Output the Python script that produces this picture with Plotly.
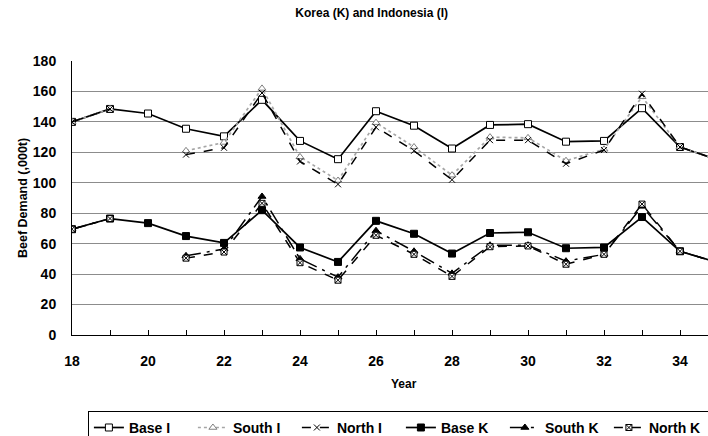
import plotly.graph_objects as go

# Years on the horizontal axis
years = list(range(18, 36))

# Indonesia beef demand (,000t)
base_i = [140, 148.5, 145.5, 135.5, 130.5, 154.5, 127.5, 115.5, 147, 137.5,
          122.5, 138, 138.5, 127, 127.5, 149, 123.5, 115]
south_i = [140, 148.5, None, 121, 126.5, 162, 117, 101.5, 139.5, 123.5,
           105, 130, 129.5, 114.5, 122, 156.5, 123.5, 115]
north_i = [140, 148.5, None, 118.5, 123, 159, 114, 99, 136.5, 121,
           102, 128, 128, 112.5, 121.5, 158.5, 123.5, 115]

# Korea beef demand (,000t)
base_k = [69.5, 76.5, 73.5, 65, 60.5, 82, 57.5, 48, 75, 66.5,
          53.5, 67, 67.5, 57, 57.5, 77.5, 55, 47.5]
south_k = [69.5, 76.5, None, 52, 56.5, 91, 50, 38, 68.5, 55,
           40.5, 59, 59, 48.5, 53, 84.5, 55, 47.5]
north_k = [69.5, 76.5, None, 50.5, 54.5, 86.5, 47.5, 36, 65.5, 53,
           38.5, 58, 58.5, 46.5, 53, 86, 55, 47.5]

y_ticks = list(range(0, 181, 20))
x_ticks = list(range(18, 35, 2))

FONT = "Liberation Sans, Arial, sans-serif"
BOLD = dict(family=FONT, weight="bold", color="black")

series = [
    ("Base I", base_i, dict(color="black", width=1.7, dash="solid"),
     dict(symbol="square", size=7, color="white", line=dict(color="black", width=1))),
    ("South I", south_i, dict(color="#a6a6a6", width=1.7, dash="dot"),
     dict(symbol="triangle-up", size=7, color="white", line=dict(color="#808080", width=1))),
    ("North I", north_i, dict(color="black", width=1.5, dash="dash"),
     dict(symbol="x-thin", size=6, color="black", line=dict(color="black", width=1))),
    ("Base K", base_k, dict(color="black", width=1.7, dash="solid"),
     dict(symbol="square", size=7, color="black", line=dict(color="black", width=1))),
    ("South K", south_k, dict(color="black", width=1.5, dash="longdashdot"),
     dict(symbol="triangle-up", size=7, color="black", line=dict(color="black", width=1))),
    ("North K", north_k, dict(color="black", width=1.5, dash="dash"),
     dict(symbol="square-x", size=6, color="white", line=dict(color="black", width=1))),
]

fig = go.Figure()
for name, vals, line, marker in series:
    fig.add_trace(go.Scatter(
        x=years, y=vals, name=name, mode="lines+markers",
        line=line, marker=marker, connectgaps=False,
    ))

fig.update_layout(
    width=708, height=436,
    margin=dict(l=72, r=0, t=61, b=101, autoexpand=False),
    paper_bgcolor="white", plot_bgcolor="white",
    font=dict(family=FONT, size=13, color="black"),
    title=dict(text="Korea (K) and Indonesia (I)", x=0.525, xanchor="center",
               y=1 - 13 / 436, yanchor="middle", font=dict(size=12, **BOLD)),
    showlegend=True,
    legend=dict(
        orientation="h", x=0.025, xanchor="left", y=-0.277, yanchor="top",
        bordercolor="black", borderwidth=1, bgcolor="white",
        font=dict(size=14, **BOLD), entrywidth=59, entrywidthmode="pixels",
        itemwidth=30, tracegroupgap=0,
    ),
    annotations=[
        dict(text="Year", xref="paper", yref="paper", x=(404 - 72) / 636, y=(335 - 384) / 274,
             xanchor="center", yanchor="middle", showarrow=False, font=dict(size=12, **BOLD)),
        dict(text="Beef Demand (,000t)", xref="paper", yref="paper", x=(23 - 72) / 636, y=0.5,
             xanchor="center", yanchor="middle", textangle=-90, showarrow=False,
             font=dict(size=12.5, **BOLD)),
    ],
)

fig.update_xaxes(
    range=[18, 18 + 636 / 38], tickvals=x_ticks,
    showgrid=False, zeroline=False, showline=True, linecolor="black", linewidth=1,
    ticks="inside", ticklen=5, tickcolor="black", ticklabelstandoff=13,
    minor=dict(dtick=1, tick0=18, ticks="inside", ticklen=5, tickcolor="black", showgrid=False),
    tickfont=dict(size=14, **BOLD),
)
fig.update_yaxes(
    range=[0, 180], tickvals=y_ticks,
    showgrid=True, gridcolor="#8c8c8c", gridwidth=1,
    zeroline=False, showline=True, linecolor="black", linewidth=1,
    ticks="", tickfont=dict(size=14, **BOLD), ticklabelstandoff=12,
)

fig.write_html("out.html")
